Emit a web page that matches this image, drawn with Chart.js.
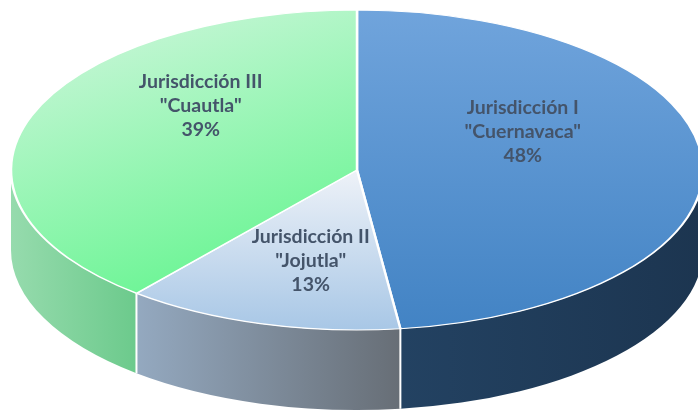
<!DOCTYPE html>
<html>
<head>
<meta charset="utf-8">
<script src="https://cdn.jsdelivr.net/npm/chart.js@4/dist/chart.umd.min.js"></script>
<style>
  html, body { margin: 0; padding: 0; background: #fff; }
  #pie { display: block; }
</style>
</head>
<body>
<canvas id="pie" width="698" height="418"></canvas>
<script>
const jurisdictions = ['Jurisdicción I', 'Jurisdicción II', 'Jurisdicción III'];
const cities = ['"Cuernavaca"', '"Jojutla"', '"Cuautla"'];
const shares = [48, 13, 39];

// look of the tilted pie on screen
const CX = 357;
const CY = 170;
const RX = 346;
const RY = 160;
const DEPTH = 80;
const K = RY / RX;

const topColors = [
  ['#70a4dc', '#4283c4'],
  ['#eef2f8', '#a8c7e6'],
  ['#d4f6e0', '#6cf595'],
];
const wallColors = [
  ['#234262', '#1c3550'],
  ['#94a9c0', '#676e76'],
  ['#96dbad', '#6cca8c'],
];

function topGradient(ctx, index, area) {
  const g = ctx.chart.ctx;
  const cx = (area.left + area.right) / 2;
  const cy = (area.top + area.bottom) / 2;
  let grad;
  if (index === 2) {
    grad = g.createLinearGradient(cx - RX, cy - RX, cx, cy + RX * 0.4);
  } else if (index === 1) {
    grad = g.createLinearGradient(0, cy, 0, cy + RX);
  } else {
    grad = g.createLinearGradient(0, cy - RX, 0, cy + RX);
  }
  grad.addColorStop(0, topColors[index][0]);
  grad.addColorStop(1, topColors[index][1]);
  return grad;
}

const tiltPlugin = {
  id: 'tilt',
  beforeDatasetsDraw(chart) {
    const ctx = chart.ctx;
    const arcs = chart.getDatasetMeta(0).data;
    const x = arcs[0].x;
    const y = arcs[0].y;
    ctx.save();
    ctx.translate(CX - x, CY - y * K);
    ctx.scale(1, K);

    const drop = DEPTH / K;
    arcs.forEach((arc, i) => {
      const a = Math.max(arc.startAngle, 0);
      const b = Math.min(arc.endAngle, Math.PI);
      if (b <= a) return;
      const r = arc.outerRadius;
      const x0 = x + r * Math.cos(b);
      const x1 = x + r * Math.cos(a);
      const grad = ctx.createLinearGradient(Math.min(x0, x1), 0, Math.max(x0, x1), 0);
      grad.addColorStop(0, wallColors[i][0]);
      grad.addColorStop(1, wallColors[i][1]);
      ctx.beginPath();
      ctx.arc(x, y, r, a, b);
      ctx.arc(x, y + drop, r, b, a, true);
      ctx.closePath();
      ctx.fillStyle = grad;
      ctx.fill();
    });

    // white seams on the wall
    ctx.strokeStyle = '#ffffff';
    ctx.lineWidth = 2;
    arcs.forEach((arc) => {
      const ang = arc.endAngle;
      if (ang > 0 && ang < Math.PI) {
        const r = arc.outerRadius;
        const px = x + r * Math.cos(ang);
        const py = y + r * Math.sin(ang);
        ctx.beginPath();
        ctx.moveTo(px, py);
        ctx.lineTo(px, py + drop);
        ctx.stroke();
      }
    });
  },
  afterDatasetsDraw(chart) {
    chart.ctx.restore();
  },
  afterDraw(chart) {
    const ctx = chart.ctx;
    const arcs = chart.getDatasetMeta(0).data;
    ctx.save();
    ctx.fillStyle = '#44546a';
    ctx.font = 'bold 19.5px Lato, "Open Sans", sans-serif';
    ctx.textAlign = 'center';
    ctx.textBaseline = 'middle';
    arcs.forEach((arc, i) => {
      const mid = (arc.startAngle + arc.endAngle) / 2;
      const s = Math.sin(mid);
      const lift = 32 * (1 - Math.max(0, s));
      const lx = CX + RX * 0.48 * Math.cos(mid);
      const ly = CY + RY * 0.6 * s - lift;
      const lines = [jurisdictions[i], cities[i], shares[i] + '%'];
      lines.forEach((t, j) => {
        ctx.fillText(t, lx, ly + (j - 1) * 24);
      });
    });
    ctx.restore();
  },
};

new Chart(document.getElementById('pie'), {
  type: 'pie',
  data: {
    labels: jurisdictions,
    datasets: [{
      data: shares,
      radius: RX,
      clip: false,
      backgroundColor(ctx) {
        const area = ctx.chart.chartArea;
        if (!area) return topColors[ctx.dataIndex][1];
        return topGradient(ctx, ctx.dataIndex, area);
      },
      borderColor: '#ffffff',
      borderWidth: 2.5,
    }],
  },
  options: {
    responsive: false,
    animation: false,
    events: [],
    layout: { padding: 0 },
    plugins: {
      legend: { display: false },
      tooltip: { enabled: false },
    },
  },
  plugins: [tiltPlugin],
});
</script>
</body>
</html>
